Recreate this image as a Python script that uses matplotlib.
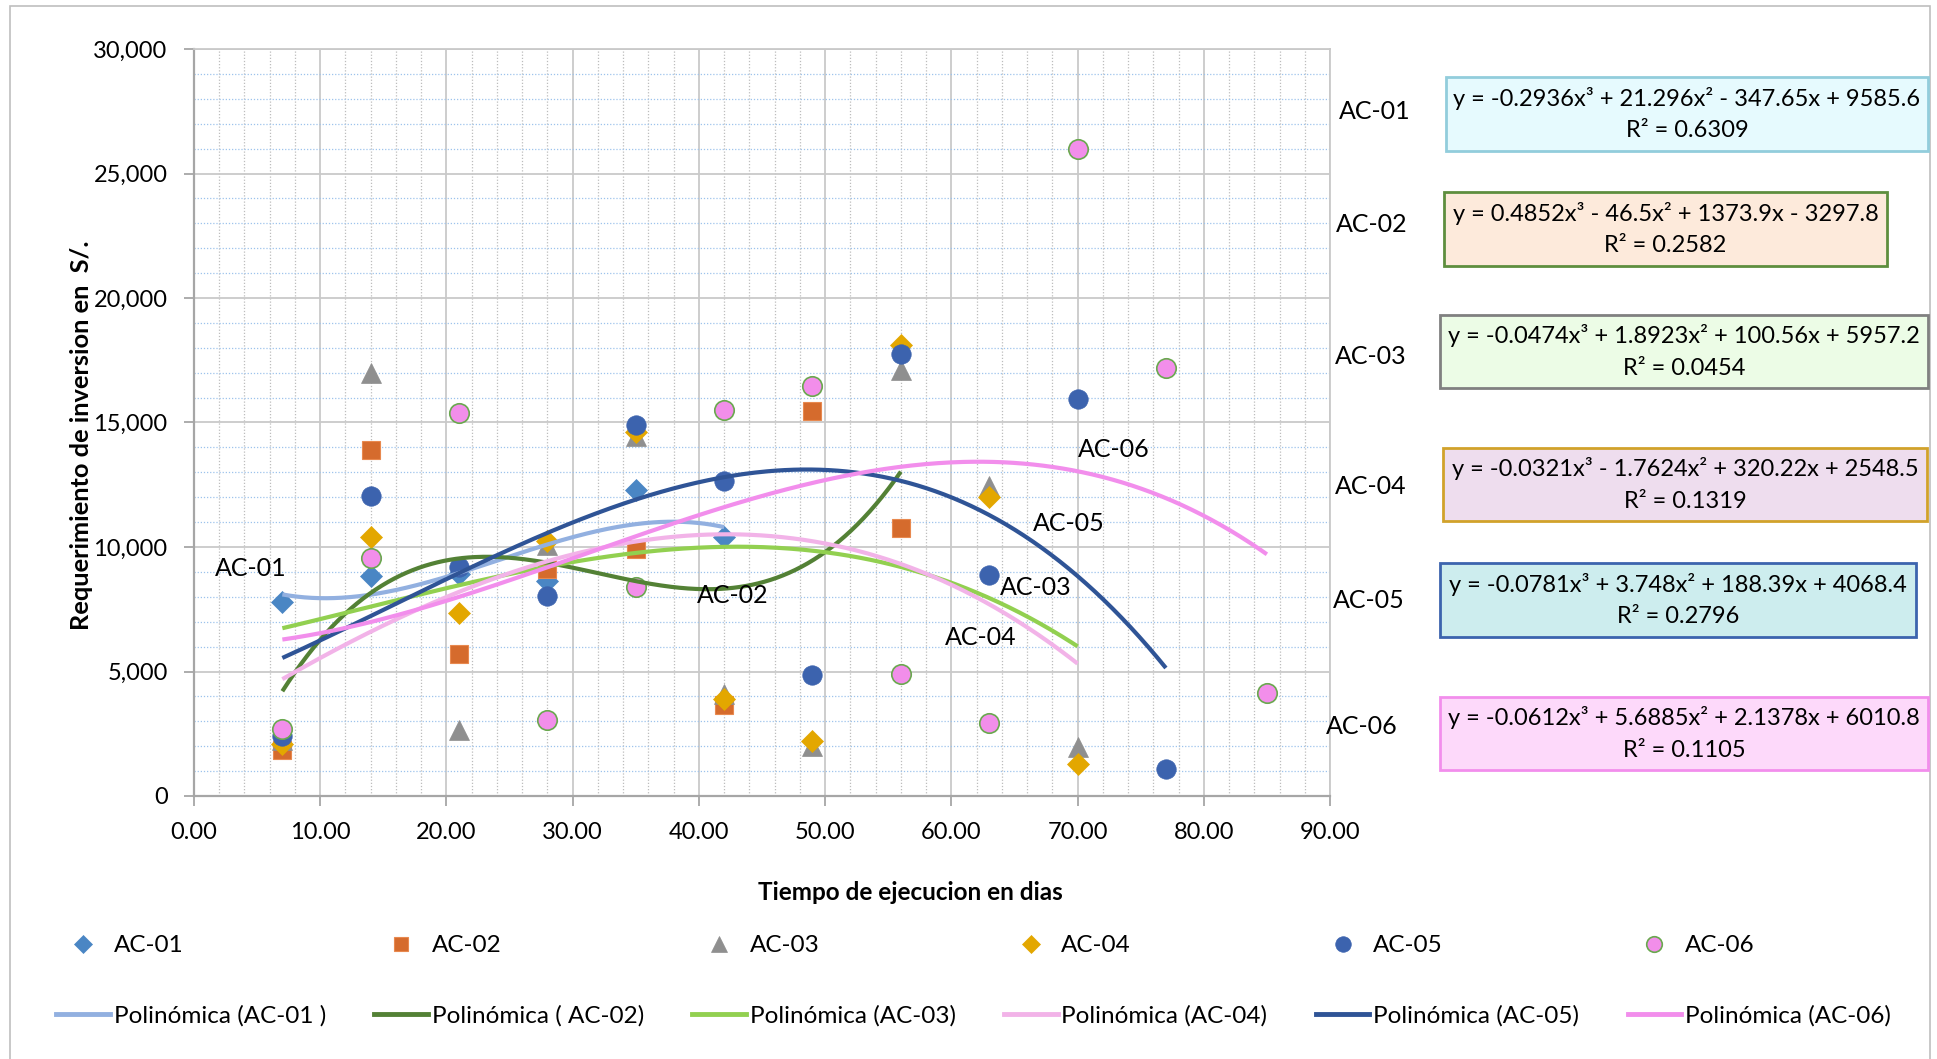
import numpy as np
import matplotlib
matplotlib.use('Agg')
import matplotlib.pyplot as plt
from matplotlib.lines import Line2D
from matplotlib.patches import Rectangle
from matplotlib.ticker import MultipleLocator, FuncFormatter

plt.rcParams['font.family'] = ['Lato', 'DejaVu Sans']

# ---------------- data ----------------
days = [7, 14, 21, 28, 35, 42, 49, 56, 63, 70, 77, 85]
names = ['AC-01', 'AC-02', 'AC-03', 'AC-04', 'AC-05', 'AC-06']

ac01 = [7800, 8850, 8900, 8650, 12300, 10400]
ac02 = [1850, 13900, 5700, 9100, 9900, 3650, 15450, 10750]
ac03 = [2250, 17000, 2650, 10100, 14450, 4100, 2000, 17100, 12450, 1950]
ac04 = [2100, 10400, 7350, 10250, 14600, 3900, 2200, 18100, 12000, 1300]
ac05 = [2400, 12050, 9200, 8050, 14900, 12650, 4850, 17750, 8870, 15950, 1100]
ac06 = [2700, 9570, 15400, 3050, 8400, 15500, 16450, 4900, 2950, 26000, 17200, 4150]

# polynomial trendline coefficients (x^3, x^2, x, 1) as shown in the chart
coef01 = [-0.2936, 21.296, -347.65, 9585.6]
coef02 = [0.4852, -46.5, 1373.9, -3297.8]
coef03 = [-0.0474, 1.8923, 100.56, 5957.2]
coef04 = [-0.0321, -1.7624, 320.22, 2548.5]
coef05 = [-0.0781, 3.748, 188.39, 4068.4]
coef06 = [-0.0612, 5.6885, 2.1378, 6010.8]
r2_values = [0.6309, 0.2582, 0.0454, 0.1319, 0.2796, 0.1105]

eq_texts = [
    'y = -0.2936x³ + 21.296x² - 347.65x + 9585.6',
    'y = 0.4852x³ - 46.5x² + 1373.9x - 3297.8',
    'y = -0.0474x³ + 1.8923x² + 100.56x + 5957.2',
    'y = -0.0321x³ - 1.7624x² + 320.22x + 2548.5',
    'y = -0.0781x³ + 3.748x² + 188.39x + 4068.4',
    'y = -0.0612x³ + 5.6885x² + 2.1378x + 6010.8',
]
line_labels = ['Polinómica (AC-01 )', 'Polinómica ( AC-02)', 'Polinómica (AC-03)',
               'Polinómica (AC-04)', 'Polinómica (AC-05)', 'Polinómica (AC-06)']

values = [ac01, ac02, ac03, ac04, ac05, ac06]
coefs = [coef01, coef02, coef03, coef04, coef05, coef06]

# ---------------- styles ----------------
W, H = 1937, 1059
marker_styles = [
    dict(marker='D', ms=11, mfc='#4A86C4', mec='#4A86C4', mew=0.5),
    dict(marker='s', ms=13, mfc='#D56B2D', mec='#E8894F', mew=0.8),
    dict(marker='^', ms=15, mfc='#8F8F8F', mec='#8F8F8F', mew=0.5),
    dict(marker='D', ms=11, mfc='#E3A700', mec='#E3A700', mew=0.5),
    dict(marker='o', ms=14, mfc='#3C63AE', mec='#3C63AE', mew=0.5),
    dict(marker='o', ms=14, mfc='#F28EEA', mec='#6AA84F', mew=1.2),
]
trend_colors = ['#92B0E0', '#538135', '#92D050', '#F2B3E8', '#2F5496', '#F28EEC']
box_fc = ['#E6FAFE', '#FDEADB', '#ECFCE6', '#EEDDEE', '#CDEDEE', '#FDD9FA']
box_ec = ['#92CDDC', '#5E8E3E', '#808080', '#D1A22A', '#3C64AE', '#F28EEC']

fig = plt.figure(figsize=(W / 100, H / 100), dpi=100)
fig.patch.set_facecolor('white')

# outer chart border
fig.add_artist(Rectangle((10 / W, -0.01), (1930 - 10) / W, 1 - 6 / H + 0.01,
                         transform=fig.transFigure, fill=False,
                         ec='#BFBFBF', lw=1.2))

ax = fig.add_axes([194 / W, 1 - 796 / H, (1330 - 194) / W, (796 - 49) / H])

for i, (vals, ms, col, cf) in enumerate(zip(values, marker_styles, trend_colors, coefs)):
    xs = days[:len(vals)]
    ax.plot(xs, vals, ls='none', zorder=3 + i * 0.01, **ms)
    xx = np.linspace(xs[0], xs[-1], 300)
    ax.plot(xx, np.polyval(cf, xx), color=col, lw=3, zorder=4 + i * 0.01,
            solid_capstyle='butt')

ax.set_xlim(0, 90)
ax.set_ylim(0, 30000)
ax.xaxis.set_major_locator(MultipleLocator(10))
ax.xaxis.set_minor_locator(MultipleLocator(2))
ax.yaxis.set_major_locator(MultipleLocator(5000))
ax.yaxis.set_minor_locator(MultipleLocator(1000))
ax.xaxis.set_major_formatter(FuncFormatter(lambda v, p: f'{v:.2f}'))
ax.yaxis.set_major_formatter(FuncFormatter(lambda v, p: f'{v:,.0f}'))

ax.grid(which='major', color='#C9C9C9', lw=1.3, zorder=0)
ax.grid(which='minor', axis='x', color='#BDBDBD', ls=(0, (1, 1.5)), lw=0.9, zorder=0)
ax.grid(which='minor', axis='y', color='#9DC3EC', ls=(0, (1, 1.5)), lw=0.9, zorder=0)
ax.set_axisbelow(True)
ax.tick_params(which='minor', length=0)
ax.tick_params(which='major', length=7, color='#A6A6A6', width=1.3,
               labelsize=17, pad=12)
for s in ax.spines.values():
    s.set_color('#C9C9C9')
    s.set_linewidth(1.3)
ax.spines['left'].set_color('#A6A6A6')
ax.spines['bottom'].set_color('#A6A6A6')
ax.spines['left'].set_linewidth(1.6)
ax.spines['bottom'].set_linewidth(1.6)

# curve labels inside the plot
curve_label_pos = [(4.5, 9136), (42.7, 8044), (66.7, 8390),
                   (62.3, 6356), (69.3, 10924), (72.9, 13903)]
for n, (lx, ly) in zip(names, curve_label_pos):
    ax.text(lx, ly, n, fontsize=18, ha='center', va='center', zorder=6)

# axis titles
fig.text(82 / W, 1 - 435 / H, 'Requerimiento de inversion en  S/.', rotation=90,
         fontsize=18.3, fontweight='bold', ha='center', va='center')
fig.text(910 / W, 1 - 892 / H, 'Tiempo de ejecucion en dias',
         fontsize=17.5, fontweight='bold', ha='center', va='center')

# right side labels and equation boxes
side_label_pos = [(1375, 112), (1372, 224), (1371, 356), (1371, 487), (1369, 600), (1362, 727)]
box_rects = [(1446, 77, 1928, 151), (1444, 192, 1887, 266), (1440, 315, 1928, 388),
             (1443, 448, 1927, 521), (1440, 563, 1916, 637), (1440, 697, 1928, 770)]
for i in range(6):
    sx, sy = side_label_pos[i]
    fig.text(sx / W, 1 - sy / H, names[i], fontsize=18, ha='center', va='center')
    x0, y0, x1, y1 = box_rects[i]
    fig.add_artist(Rectangle((x0 / W, 1 - y1 / H), (x1 - x0) / W, (y1 - y0) / H,
                             transform=fig.transFigure, fc=box_fc[i], ec=box_ec[i], lw=2))
    fig.text((x0 + x1) / 2 / W, 1 - (y0 + y1) / 2 / H,
             f'{eq_texts[i]}\nR² = {r2_values[i]:.4f}',
             fontsize=17, ha='center', va='center', multialignment='center',
             linespacing=1.62)

# legend
handles, labels = [], []
for i in range(6):
    handles.append(Line2D([], [], ls='none', **marker_styles[i]))
    labels.append(names[i])
    handles.append(Line2D([], [], color=trend_colors[i], lw=3.5))
    labels.append(line_labels[i])
fig.legend(handles, labels, ncol=6, loc='center', bbox_to_anchor=(0.5026, 1 - 981 / H),
           frameon=False, fontsize=17.5, handlelength=2.2, handletextpad=0.15,
           columnspacing=2.0, labelspacing=2.0, markerscale=0.8)

fig.savefig('out.png', dpi=100, facecolor='white')
